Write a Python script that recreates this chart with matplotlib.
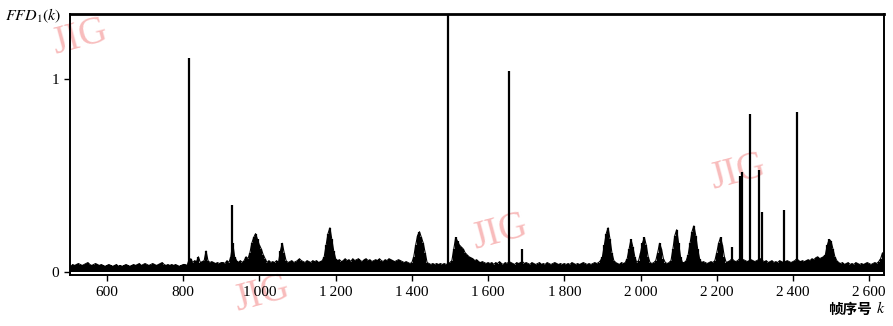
import numpy as np
import matplotlib
matplotlib.use('Agg')
import matplotlib.pyplot as plt

plt.rcParams['font.family'] = ['Liberation Serif', 'DejaVu Serif']
plt.rcParams['mathtext.fontset'] = 'stix'

# frame index grid (every 5 frames) and FFD_1 values
frames = np.arange(505, 2640, 5)
ffd = [
    # 505-600
    0.03, 0.04, 0.035, 0.04, 0.045, 0.04, 0.035, 0.04, 0.045, 0.05, 0.04, 0.035, 0.04, 0.045, 0.04, 0.035, 0.04, 0.035, 0.03, 0.035,
    # 605-700
    0.04, 0.035, 0.03, 0.035, 0.04, 0.03, 0.035, 0.03, 0.035, 0.04, 0.035, 0.03, 0.035, 0.04, 0.035, 0.04, 0.045, 0.035, 0.04, 0.045,
    # 705-800
    0.04, 0.035, 0.04, 0.045, 0.04, 0.035, 0.04, 0.045, 0.05, 0.04, 0.035, 0.04, 0.035, 0.04, 0.035, 0.04, 0.035, 0.03, 0.035, 0.04,
    # 805-900
    0.04, 0.035, 0.06, 0.07, 0.05, 0.06, 0.055, 0.08, 0.05, 0.055, 0.06, 0.11, 0.06, 0.05, 0.055, 0.05, 0.045, 0.05, 0.045, 0.05,
    # 905-1000
    0.05, 0.045, 0.06, 0.05, 0.08, 0.15, 0.08, 0.06, 0.05, 0.06, 0.05, 0.06, 0.08, 0.07, 0.1, 0.15, 0.18, 0.2, 0.17, 0.14,
    # 1005-1100
    0.12, 0.09, 0.07, 0.05, 0.06, 0.05, 0.055, 0.05, 0.06, 0.05, 0.11, 0.15, 0.1, 0.06, 0.05, 0.055, 0.06, 0.05, 0.055, 0.06,
    # 1105-1200
    0.07, 0.06, 0.055, 0.05, 0.06, 0.055, 0.05, 0.06, 0.055, 0.06, 0.05, 0.055, 0.06, 0.08, 0.14, 0.2, 0.23, 0.17, 0.11, 0.07,
    # 1205-1300
    0.06, 0.065, 0.055, 0.06, 0.07, 0.06, 0.065, 0.055, 0.07, 0.06, 0.065, 0.07, 0.06, 0.055, 0.065, 0.07, 0.06, 0.065, 0.055, 0.06,
    # 1305-1400
    0.065, 0.06, 0.07, 0.06, 0.055, 0.065, 0.06, 0.07, 0.065, 0.06, 0.055, 0.06, 0.065, 0.06, 0.055, 0.05, 0.055, 0.05, 0.045, 0.05,
    # 1405-1500
    0.08, 0.14, 0.19, 0.21, 0.18, 0.15, 0.1, 0.05, 0.045, 0.04, 0.045, 0.04, 0.045, 0.04, 0.045, 0.04, 0.045, 0.04, 0.045, 0.05,
    # 1505-1600
    0.06, 0.12, 0.18, 0.16, 0.14, 0.13, 0.12, 0.1, 0.09, 0.08, 0.075, 0.07, 0.06, 0.065, 0.055, 0.05, 0.055, 0.05, 0.045, 0.05,
    # 1605-1700
    0.045, 0.05, 0.04, 0.05, 0.045, 0.055, 0.045, 0.04, 0.05, 0.045, 0.055, 0.05, 0.045, 0.04, 0.05, 0.045, 0.05, 0.055, 0.045, 0.05,
    # 1705-1800
    0.045, 0.04, 0.05, 0.045, 0.04, 0.045, 0.05, 0.04, 0.045, 0.04, 0.05, 0.045, 0.04, 0.045, 0.05, 0.045, 0.04, 0.045, 0.04, 0.045,
    # 1805-1900
    0.04, 0.045, 0.04, 0.05, 0.045, 0.04, 0.045, 0.04, 0.045, 0.05, 0.045, 0.04, 0.045, 0.04, 0.045, 0.05, 0.045, 0.05, 0.06, 0.08,
    # 1905-2000
    0.14, 0.2, 0.23, 0.17, 0.1, 0.06, 0.05, 0.045, 0.04, 0.05, 0.045, 0.05, 0.07, 0.12, 0.17, 0.13, 0.08, 0.05, 0.06, 0.1,
    # 2005-2100
    0.15, 0.18, 0.14, 0.08, 0.05, 0.045, 0.05, 0.06, 0.1, 0.15, 0.12, 0.07, 0.05, 0.045, 0.05, 0.06, 0.12, 0.19, 0.22, 0.15,
    # 2105-2200
    0.08, 0.05, 0.05, 0.06, 0.09, 0.15, 0.21, 0.24, 0.19, 0.12, 0.07, 0.05, 0.055, 0.05, 0.045, 0.05, 0.055, 0.05, 0.06, 0.1,
    # 2205-2300
    0.15, 0.18, 0.14, 0.08, 0.05, 0.055, 0.06, 0.07, 0.06, 0.055, 0.06, 0.07, 0.06, 0.065, 0.06, 0.055, 0.06, 0.065, 0.06, 0.055,
    # 2305-2400
    0.06, 0.065, 0.07, 0.06, 0.055, 0.06, 0.05, 0.055, 0.06, 0.05, 0.055, 0.05, 0.06, 0.055, 0.05, 0.055, 0.06, 0.055, 0.05, 0.055,
    # 2405-2500
    0.06, 0.07, 0.06, 0.055, 0.06, 0.055, 0.06, 0.065, 0.06, 0.07, 0.065, 0.075, 0.08, 0.07, 0.075, 0.08, 0.09, 0.14, 0.17, 0.16,
    # 2505-2600
    0.12, 0.08, 0.06, 0.05, 0.045, 0.05, 0.04, 0.045, 0.05, 0.04, 0.045, 0.04, 0.05, 0.045, 0.04, 0.045, 0.04, 0.045, 0.05, 0.045,
    # 2605-2635
    0.04, 0.045, 0.05, 0.045, 0.055, 0.07, 0.1,
]

# isolated sharp peaks (shot cuts)
spike_frames = [815, 928, 1496, 1656, 1688, 2241, 2262, 2266, 2288, 2312, 2320, 2377, 2411]
spike_values = [1.11, 0.35, 1.40, 1.04, 0.12, 0.13, 0.50, 0.52, 0.82, 0.53, 0.31, 0.32, 0.83]

xticks = [600, 800, 1000, 1200, 1400, 1600, 1800, 2000, 2200, 2400, 2600]
xtick_labels = ['600', '800', '1\u2009000', '1\u2009200', '1\u2009400', '1\u2009600',
                '1\u2009800', '2\u2009000', '2\u2009200', '2\u2009400', '2\u2009600']

fig = plt.figure(figsize=(8.93, 3.26), dpi=100)
ax = fig.add_axes([0.0784, 0.156, 0.912, 0.80])
ax.set_zorder(1)
ax.patch.set_alpha(0)

ax.vlines(frames, 0, ffd, colors='black', linewidth=1.6)
ax.plot(frames, ffd, color='black', linewidth=0.8)
ax.vlines(spike_frames, 0, spike_values, colors='black', linewidth=1.6)

ax.set_xlim(503, 2640)
ax.set_ylim(-0.015, 1.335)
ax.set_xticks(xticks)
ax.set_xticklabels(xtick_labels)
ax.set_yticks([0, 1])
ax.set_yticklabels(['0', '1'])
ax.tick_params(direction='out', length=4, width=1, labelsize=11, pad=4)
for s in ax.spines.values():
    s.set_linewidth(1.4)
ax.spines['top'].set_linewidth(2)

fig.text(0.006, 0.95, r'$FFD_{1}(k)$', fontsize=11.5, ha='left', va='center')
fig.text(0.927, 0.052, '帧序号', fontsize=10.5, fontweight='bold',
         family=['Noto Sans CJK SC', 'DejaVu Sans'], ha='left', va='center')
fig.text(0.981, 0.052, r'$k$', fontsize=11.5, ha='left', va='center')

# journal watermarks
wm = dict(fontsize=28, color='#f8bcbc', rotation=15, ha='center', va='center', zorder=0)
for (px, py) in [(80, 38), (262, 295), (500, 233), (738, 173)]:
    fig.text(px / 893, 1 - py / 326, 'JIG', **wm)

fig.savefig('out.png', dpi=100)
